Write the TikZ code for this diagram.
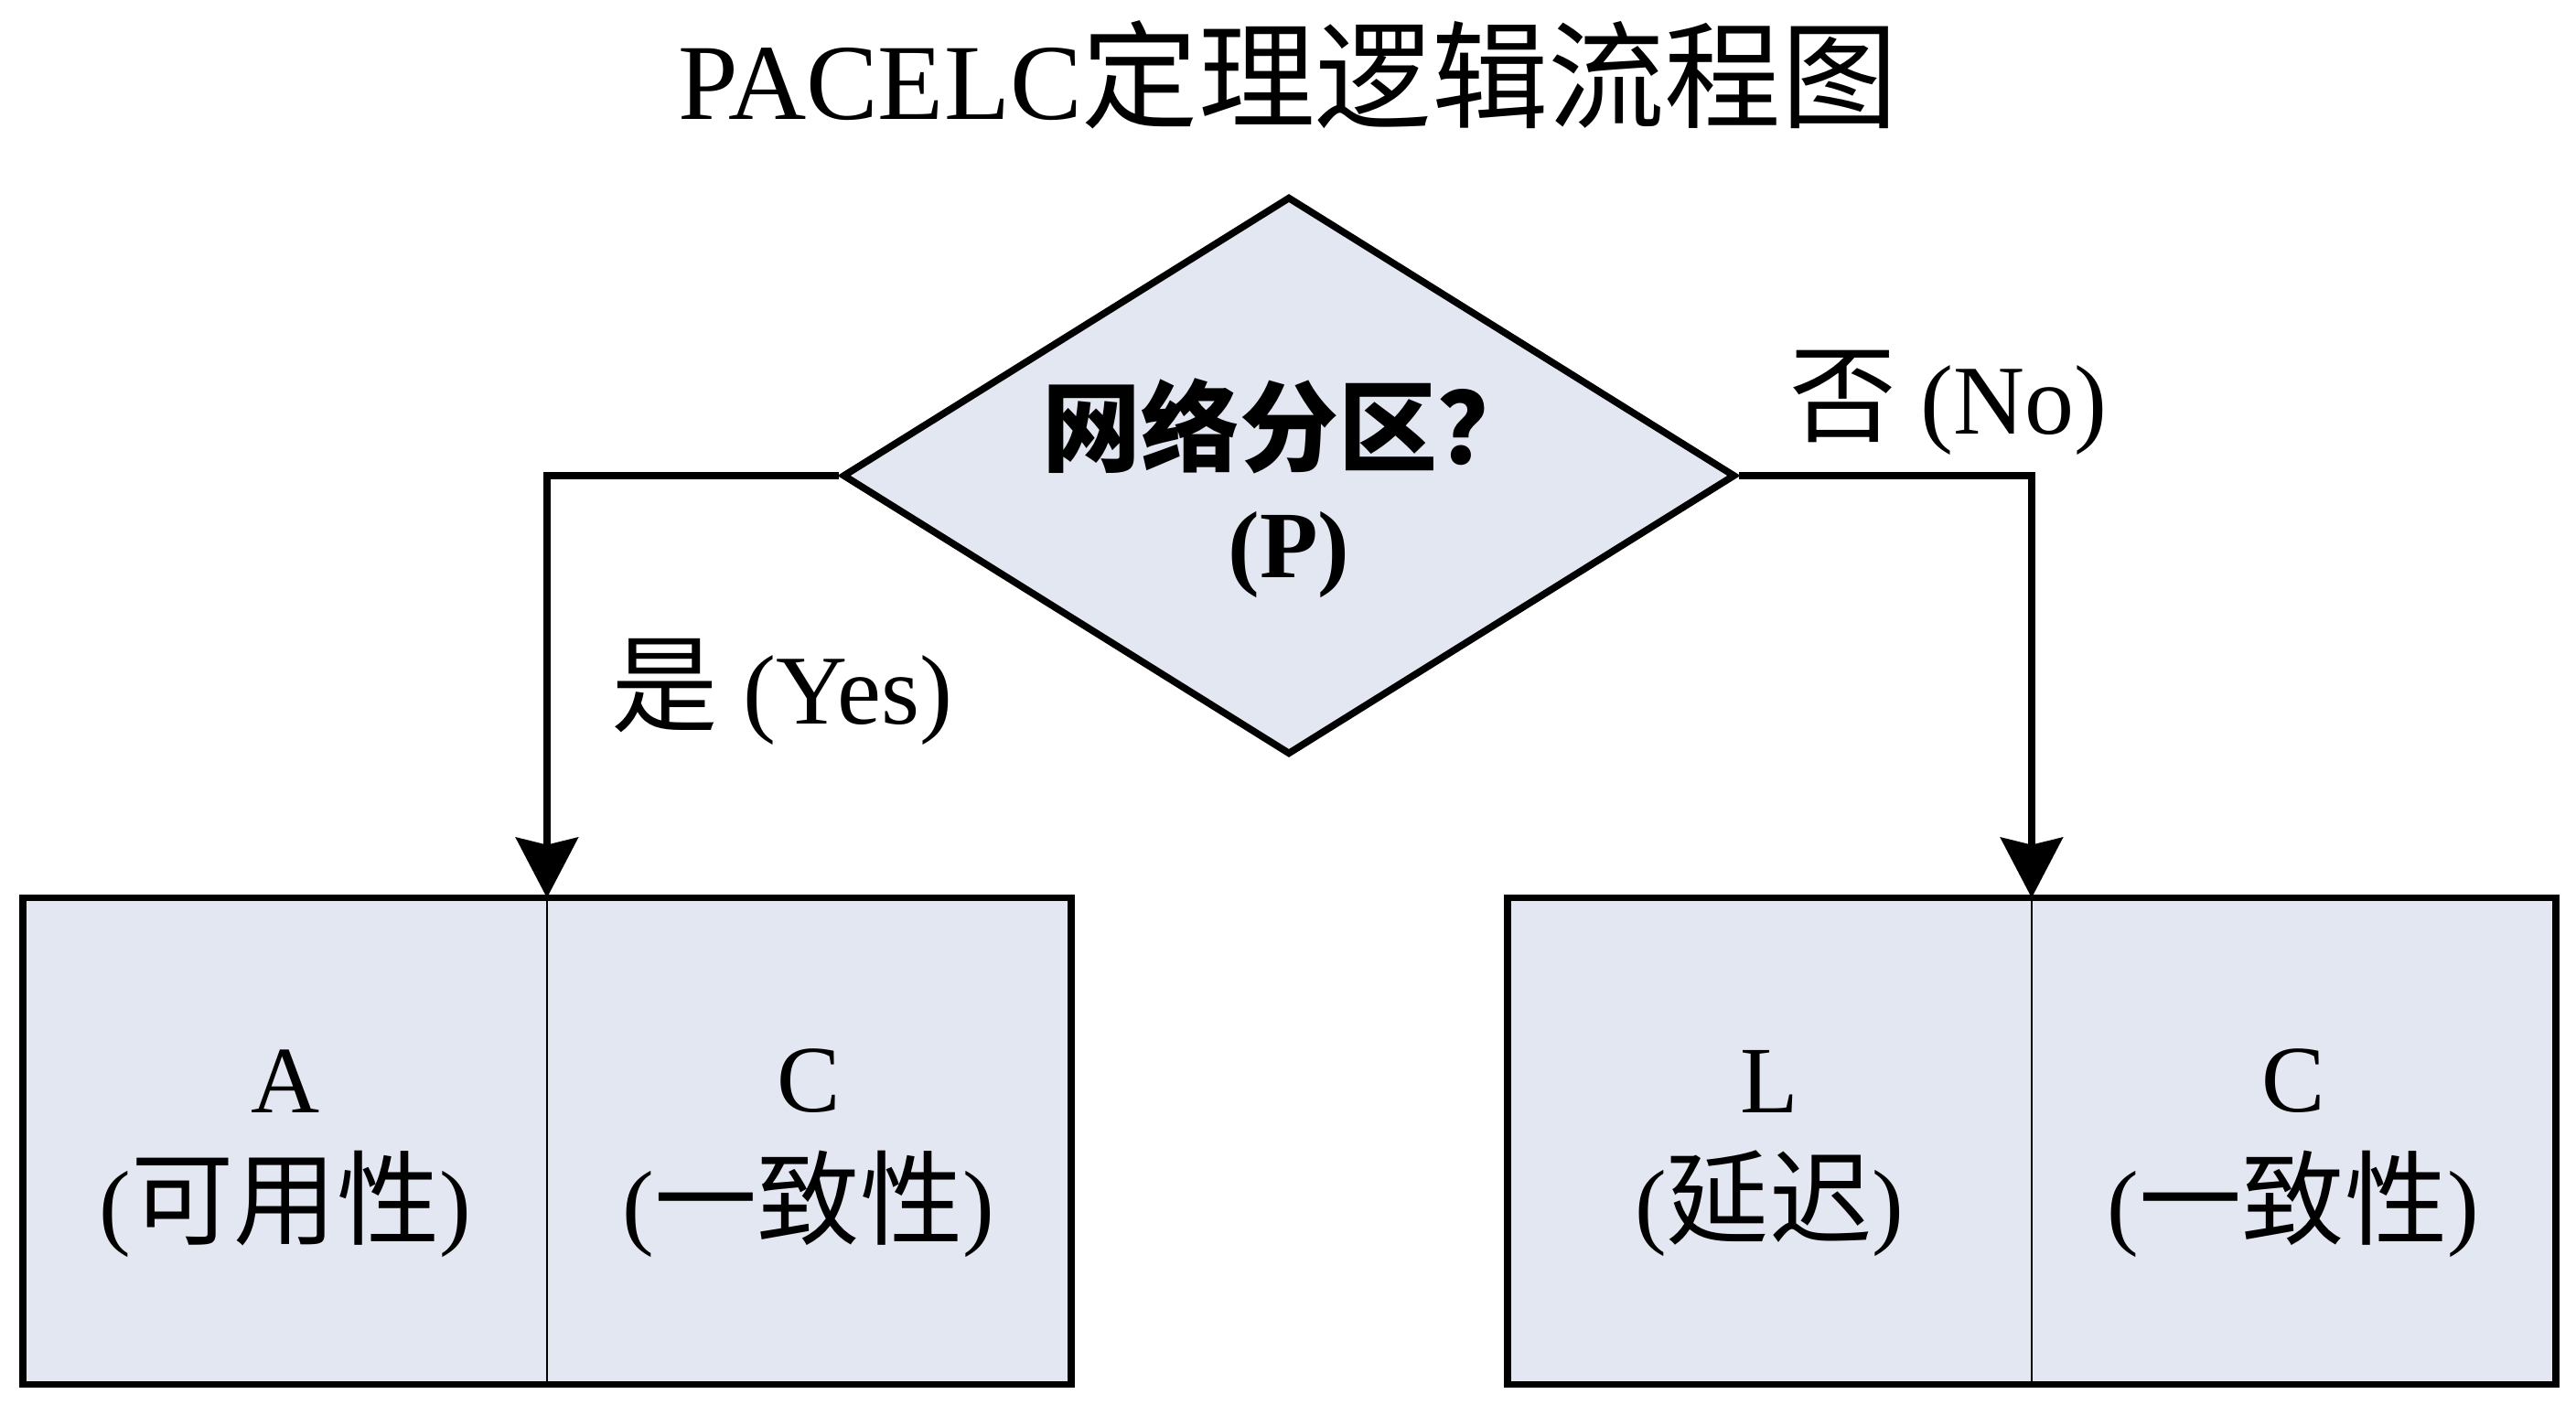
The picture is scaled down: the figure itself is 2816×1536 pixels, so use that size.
\documentclass[tikz,border=0pt]{standalone}
\usepackage{fontspec}
\setmainfont{Liberation Serif}
\newfontfamily\cjk[Scale=1.08]{Noto Sans CJK SC}
\usetikzlibrary{shapes.geometric,arrows.meta}
\definecolor{boxfill}{RGB}{227,231,242}
\tikzset{
  px/.style={x=0.5pt,y=-0.5pt},
  half/.style={fill=boxfill,draw=none,inner sep=0pt,minimum width=286pt,minimum height=265.5pt},
  txt/.style={inner sep=0pt,font=\fontsize{52}{60}\selectfont},
  lbl/.style={inner sep=0pt,font=\fontsize{54}{62}\selectfont},
  conn/.style={line width=3.6pt,-{Stealth[length=33pt,width=34pt,inset=4pt]}},
}
\begin{document}
\begin{tikzpicture}[px]
\useasboundingbox (0,0) rectangle (2816,1536);
\fill[white] (0,0) rectangle (2816,1536);
% title
\node[inner sep=0pt,font=\fontsize{59}{70}\selectfont] (title) at (1408,82) {PACELC{\cjk 定理逻辑流程图}};
% decision
\node[diamond,draw,line width=3.8pt,fill=boxfill,inner sep=0pt,minimum width=488pt,minimum height=305pt] (dia) at (1409,520) {};
\node[inner sep=0pt,font=\fontsize{50}{60}\selectfont\bfseries] (q1) at (1409,466) {\cjk 网络分区？};
\node[inner sep=0pt,font=\fontsize{52}{60}\selectfont\bfseries] (q2) at (1409,606) {(P)};
% left result box
\node[half] (A) at (311.5,1247.5) {};
\node[half] (C1) at (884.5,1247.5) {};
\draw[line width=3.8pt] (A.north west) rectangle (C1.south east);
\draw[line width=1pt] (A.north east) -- (A.south east);
% right result box
\node[half] (L) at (1934.5,1247.5) {};
\node[half] (C2) at (2507.5,1247.5) {};
\draw[line width=3.8pt] (L.north west) rectangle (C2.south east);
\draw[line width=1pt] (L.north east) -- (L.south east);
% box texts
\node[txt] (tA) at (312,1182) {A};
\node[txt] (tA2) at (312,1316) {({\cjk 可用性})};
\node[txt] (tC1) at (884,1182) {C};
\node[txt] (tC12) at (884,1316) {({\cjk 一致性})};
\node[txt] (tL) at (1934,1182) {L};
\node[txt] (tL2) at (1934,1316) {({\cjk 延迟})};
\node[txt] (tC2) at (2507,1182) {C};
\node[txt] (tC22) at (2507,1316) {({\cjk 一致性})};
% connectors
\draw[conn] (dia.west) -| (A.north east);
\draw[conn] (dia.east) -| (L.north east);
% labels
\node[lbl] (yes) at (855,756) {{\cjk 是} (Yes)};
\node[lbl] (no) at (2130,440) {{\cjk 否} (No)};
\end{tikzpicture}
\end{document}
